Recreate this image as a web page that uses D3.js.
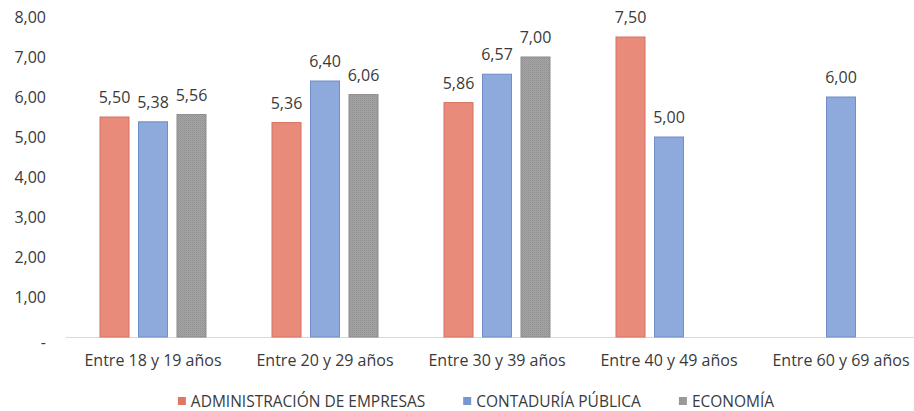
<!DOCTYPE html>
<html>
<head>
<meta charset="utf-8">
<script src="https://cdn.jsdelivr.net/npm/d3@7"></script>
<style>
	body { margin: 0; background: #fff; }
	text { font-family: "Open Sans", sans-serif; fill: #3a3a3a; }
</style>
</head>
<body>
<div id="chart"></div>
<script>
// chart data
var categories = ["Entre 18 y 19 años", "Entre 20 y 29 años", "Entre 30 y 39 años", "Entre 40 y 49 años", "Entre 60 y 69 años"],
	seriesNames = ["ADMINISTRACIÓN DE EMPRESAS", "CONTADURÍA PÚBLICA", "ECONOMÍA"],
	administracion = [5.50, 5.36, 5.86, 7.50, null],
	contaduria = [5.38, 6.40, 6.57, 5.00, 6.00],
	economia = [5.56, 6.06, 7.00, null, null],
	yTicks = [0, 1, 2, 3, 4, 5, 6, 7, 8];

var seriesValues = [administracion, contaduria, economia];

// viz params
var w = 914,
	h = 411,
	fills = ["#e98b7a", "#8eaadc", "url(#grayDots)"],
	strokes = ["#d77260", "#6f8ec8", "#8a8a8a"],
	legendFills = ["#e07663", "#7797d3", "#9a9a9a"];

var svg = d3.select("#chart").append("svg")
	.attr("width", w)
	.attr("height", h);

// dotted texture for the gray series
var pat = svg.append("defs").append("pattern")
	.attr("id", "grayDots")
	.attr("width", 2)
	.attr("height", 2)
	.attr("patternUnits", "userSpaceOnUse");
pat.append("rect").attr("width", 2).attr("height", 2).attr("fill", "#a6a6a6");
pat.append("rect").attr("width", 1).attr("height", 1).attr("fill", "#8f8f8f");
pat.append("rect").attr("x", 1).attr("y", 1).attr("width", 1).attr("height", 1).attr("fill", "#9a9a9a");

var x = d3.scaleBand()
	.domain(categories)
	.range([67, 927]);

var inner = d3.scaleBand()
	.domain(seriesNames)
	.range([0, 115.5])
	.paddingInner(8.5 / 38.5)
	.paddingOuter(8.5 / 77);

var y = d3.scaleLinear()
	.domain([0, 8])
	.range([337, 17]);

var fmt = function(v) {
	return v.toFixed(2).replace(".", ",");
};

// y axis labels, no line
var yAxis = d3.axisLeft(y)
	.tickValues(yTicks)
	.tickSize(0)
	.tickPadding(0)
	.tickFormat(function(d) { return d == 0 ? "-" : fmt(d); });

var yG = svg.append("g")
	.attr("transform", "translate(46,0)")
	.call(yAxis);
yG.select(".domain").remove();
yG.selectAll("text")
	.attr("font-size", 16)
	.attr("font-family", "Open Sans")
	.attr("fill", "#3a3a3a");
yG.selectAll(".tick").filter(function(d) { return d == 0; }).select("text")
	.attr("dy", "0.65em");

// baseline
svg.append("line")
	.attr("x1", 66)
	.attr("x2", w)
	.attr("y1", y(0) + 0.5)
	.attr("y2", y(0) + 0.5)
	.attr("stroke", "#d9d9d9")
	.attr("stroke-width", 1.2);

// x axis labels
var xAxis = d3.axisBottom(x).tickSize(0).tickPadding(0);
var xG = svg.append("g")
	.attr("transform", "translate(0," + y(0) + ")")
	.call(xAxis);
xG.select(".domain").remove();
xG.selectAll("text")
	.attr("y", 29)
	.attr("dy", 0)
	.attr("font-size", 16)
	.attr("font-family", "Open Sans")
	.attr("fill", "#3a3a3a");

// bars
var barData = [];
seriesValues.forEach(function(vals, si) {
	vals.forEach(function(v, ci) {
		if (v !== null) barData.push({ s: si, c: ci, v: v });
	});
});

var groupOffset = x.bandwidth() / 2 - 57.75;

svg.selectAll("rect.bar")
	.data(barData)
	.enter()
	.append("rect")
	.attr("class", "bar")
	.attr("x", function(d) { return x(categories[d.c]) + groupOffset + inner(seriesNames[d.s]) + 0.5; })
	.attr("y", function(d) { return y(d.v); })
	.attr("width", inner.bandwidth() - 1)
	.attr("height", function(d) { return y(0) - y(d.v); })
	.attr("fill", function(d) { return fills[d.s]; })
	.attr("stroke", function(d) { return strokes[d.s]; })
	.attr("stroke-width", 1);

svg.selectAll("text.val")
	.data(barData)
	.enter()
	.append("text")
	.attr("class", "val")
	.attr("x", function(d) { return x(categories[d.c]) + groupOffset + inner(seriesNames[d.s]) + inner.bandwidth() / 2; })
	.attr("y", function(d) { return y(d.v) - 14; })
	.attr("text-anchor", "middle")
	.attr("font-size", 16)
	.text(function(d) { return fmt(d.v); });

// legend
var legend = svg.append("g");
var items = legend.selectAll("g.item")
	.data(seriesNames)
	.enter()
	.append("g")
	.attr("class", "item");

items.append("rect")
	.attr("width", 8)
	.attr("height", 8)
	.attr("y", 397)
	.attr("fill", function(d, i) { return legendFills[i]; });

items.append("text")
	.attr("x", 13)
	.attr("y", 407)
	.attr("font-size", 15.5)
	.text(function(d) { return d; });

var gap = 38,
	cursor = 0;
items.each(function() {
	var g = d3.select(this);
	g.attr("transform", "translate(" + cursor + ",0)");
	cursor += 13 + g.select("text").node().getComputedTextLength() + gap;
});
var totalW = cursor - gap;
legend.attr("transform", "translate(" + (476 - totalW / 2) + ",0)");
</script>
</body>
</html>
